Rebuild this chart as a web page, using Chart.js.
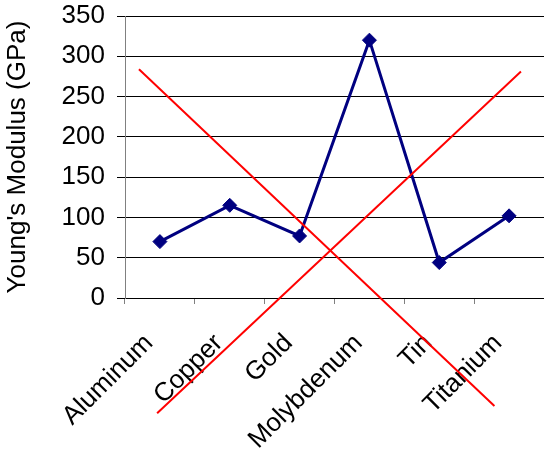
<!DOCTYPE html>
<html>
<head>
<meta charset="utf-8">
<script src="https://cdn.jsdelivr.net/npm/chart.js@4/dist/chart.umd.min.js"></script>
<style>
  html, body { margin: 0; padding: 0; background: #fff; }
  canvas { display: block; }
</style>
</head>
<body>
<canvas id="chart" width="544" height="450"></canvas>
<script>
// Metals and their Young's modulus in GPa
const metals = ['Aluminum', 'Copper', 'Gold', 'Molybdenum', 'Tin', 'Titanium'];
const modulus = [70, 115, 77, 320, 44, 102];
const yTicks = [0, 50, 100, 150, 200, 250, 300, 350];

// Red strike-through lines, given as (category position, GPa) end points
const strikeDown = [{ x: -0.3, y: 284 }, { x: 4.79, y: -134 }];
const strikeUp = [{ x: -0.04, y: -143 }, { x: 5.17, y: 281 }];

const FONT = '"Liberation Sans", Arial, sans-serif';

// keep the plot area fixed: no extra room reserved for edge labels
const noEdgePadding = s => {
  s.paddingTop = 0; s.paddingBottom = 0; s.paddingLeft = 0; s.paddingRight = 0;
};

new Chart(document.getElementById('chart'), {
  type: 'line',
  data: {
    labels: metals,
    datasets: [
      {
        data: strikeDown,
        xAxisID: 'xs',
        borderColor: '#ff0000',
        borderWidth: 2,
        pointRadius: 0,
        clip: false,
        order: 0
      },
      {
        data: strikeUp,
        xAxisID: 'xs',
        borderColor: '#ff0000',
        borderWidth: 2,
        pointRadius: 0,
        clip: false,
        order: 0
      },
      {
        data: modulus,
        xAxisID: 'x',
        borderColor: '#000080',
        backgroundColor: '#000080',
        borderWidth: 3,
        pointStyle: 'rectRot',
        pointRadius: 7,
        pointBorderWidth: 1,
        pointBorderColor: '#000080',
        pointBackgroundColor: '#000080',
        tension: 0,
        order: 1
      }
    ]
  },
  options: {
    responsive: false,
    devicePixelRatio: 1,
    animation: false,
    events: [],
    layout: { autoPadding: false, padding: { top: 16, right: 0, left: 0, bottom: 0 } },
    plugins: { legend: { display: false }, tooltip: { enabled: false } },
    scales: {
      x: {
        type: 'category',
        offset: true,
        grid: { drawOnChartArea: false, drawTicks: true, tickLength: 6, color: '#808080', offset: true },
        border: { color: '#000000', width: 1 },
        ticks: {
          color: '#000',
          font: { family: FONT, size: 26 },
          minRotation: 45,
          maxRotation: 45,
          autoSkip: false,
          padding: 24,
          labelOffset: -11
        },
        afterFit: s => { s.height = 152; noEdgePadding(s); }
      },
      xs: {
        type: 'linear',
        display: false,
        min: -0.5,
        max: 5.5,
        ticks: { display: false },
        afterFit: s => { s.height = 0; noEdgePadding(s); }
      },
      y: {
        min: 0,
        max: 350,
        afterBuildTicks: s => { s.ticks = yTicks.map(v => ({ value: v })); },
        grid: { color: '#000000', lineWidth: 1, tickLength: 8, drawTicks: true },
        border: { color: '#808080', width: 1 },
        ticks: {
          color: '#000',
          font: { family: FONT, size: 26 },
          padding: 12
        },
        title: {
          display: true,
          text: "Young's Modulus (GPa)",
          color: '#000',
          font: { family: FONT, size: 26 },
          padding: { top: 2, bottom: 4 }
        },
        afterFit: s => { s.width = 125; noEdgePadding(s); }
      }
    }
  }
});
</script>
</body>
</html>
